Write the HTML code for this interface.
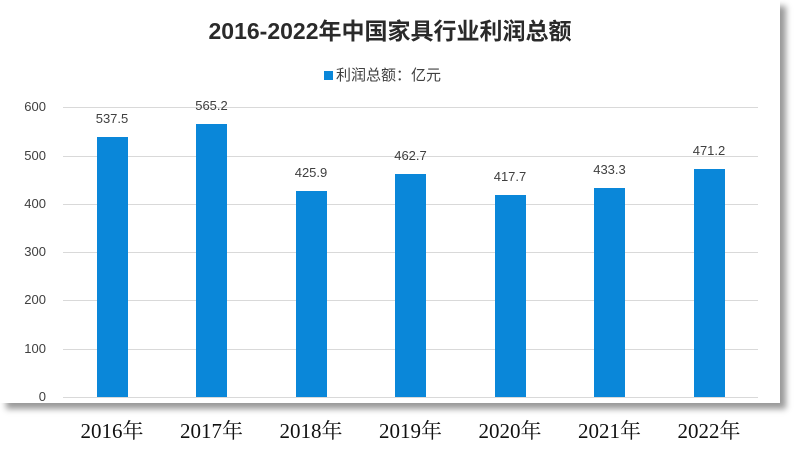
<!DOCTYPE html>
<html><head><meta charset="utf-8"><style>
body{margin:0;width:800px;height:450px;background:#fff;overflow:hidden;position:relative;font-family:"Liberation Sans","Noto Sans CJK SC",sans-serif}
.frame{position:absolute;left:0;top:0;width:780px;height:403px;background:#fff;box-shadow:6px 6px 6px #9a9a9a}
.t{position:absolute;white-space:nowrap}
.grid{position:absolute;left:63px;width:695px;height:1px;background:#d9d9d9}
.bar{position:absolute;width:31px;background:#0a87d9}
.yl{position:absolute;left:20px;width:26px;text-align:right;font-size:13px;color:#404040}
.dl{position:absolute;width:60px;text-align:center;font-size:13px;color:#404040}
.xl{position:absolute;top:415px;width:100px;text-align:center;font-size:21px;color:#111;font-family:"Liberation Serif","Noto Serif CJK SC",serif}
</style></head><body>
<div class="frame"></div>
<div class="t" style="left:0;width:780px;text-align:center;top:12px;font-size:23px;font-weight:bold;color:#2a2a2a">2016-2022年中国家具行业利润总额</div>
<div class="t" style="left:324px;top:64px;font-size:15px;color:#404040"><span style="display:inline-block;width:9px;height:9px;background:#0a87d9;margin-right:3px"></span>利润总额：亿元</div>
<div id="c"></div>
<script>
(function(){
var h='';
for(var i=0;i<=6;i++){var y=397-i*48.3;h+='<div class="grid" style="top:'+y+'px"></div><div class="yl" style="top:'+(y-8)+'px">'+(i*100)+'</div>';}
var v=[537.5,565.2,425.9,462.7,417.7,433.3,471.2];
for(var i=0;i<7;i++){var cx=112+i*99.5,bh=v[i]*0.483,bt=397-bh;
h+='<div class="bar" style="left:'+(cx-15.5)+'px;top:'+bt+'px;height:'+bh+'px"></div>';
h+='<div class="dl" style="left:'+(cx-30)+'px;top:'+(bt-26)+'px">'+v[i].toFixed(1)+'</div>';
h+='<div class="xl" style="left:'+(cx-50)+'px">'+(2016+i)+'年</div>';}
document.getElementById('c').innerHTML=h;
})();
</script>
</body></html>
